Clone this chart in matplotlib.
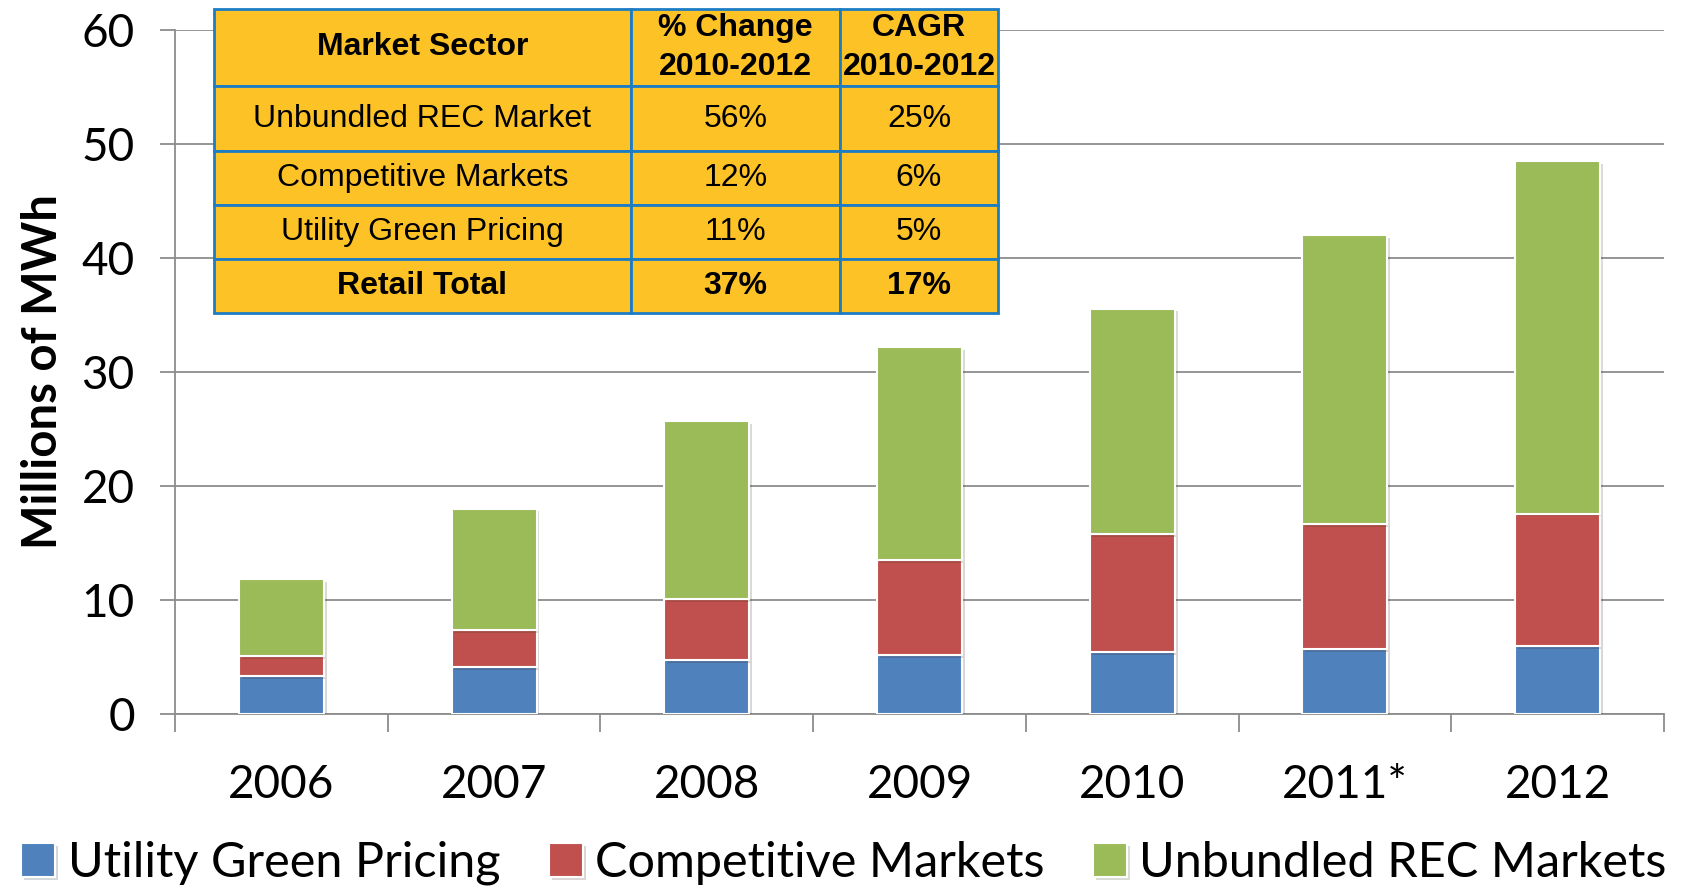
import matplotlib
matplotlib.use("Agg")
import matplotlib.pyplot as plt
import matplotlib.patheffects as pe
from matplotlib.table import Table
import numpy as np

# Retail green power sales, millions of MWh
years = ['2006', '2007', '2008', '2009', '2010', '2011*', '2012']
utility_green = [3.3, 4.13, 4.75, 5.15, 5.4, 5.67, 5.97]
competitive = [1.77, 3.23, 5.33, 8.32, 10.38, 11.01, 11.6]
unbundled_rec = [6.77, 10.64, 15.62, 18.73, 19.77, 25.32, 30.93]

series_names = ['Utility Green Pricing', 'Competitive Markets', 'Unbundled REC Markets']
series_colors = ['#4F81BD', '#C0504D', '#9BBB59']

# growth table
table_header = ['Market Sector', '% Change\n2010-2012', 'CAGR\n2010-2012']
table_rows = [
    ['Unbundled REC Market', '56%', '25%'],
    ['Competitive Markets', '12%', '6%'],
    ['Utility Green Pricing', '11%', '5%'],
    ['Retail Total', '37%', '17%'],
]

tick_font = 'Lato'
table_font = ['Liberation Sans', 'DejaVu Sans']

fig = plt.figure(figsize=(16.83, 8.89), dpi=100)
ax = fig.add_axes([0.104, 0.197, 0.8847, 0.7693])

x = np.arange(len(years))
bottom = np.zeros(len(years))
shadow = [pe.SimplePatchShadow(offset=(2, -2), alpha=0.18), pe.Normal()]
for vals, name, col in zip([utility_green, competitive, unbundled_rec], series_names, series_colors):
    ax.bar(x, vals, 0.4, bottom=bottom, color=col, edgecolor='white', linewidth=1.5,
           label=name, zorder=3, path_effects=shadow)
    bottom += np.array(vals)

ax.set_xlim(-0.5, len(years) - 0.5)
ax.set_ylim(0, 60)
ax.set_yticks(range(0, 61, 10))
ax.yaxis.grid(True, color='#8C8C8C', linewidth=1.3, zorder=0)
ax.set_axisbelow(True)

# category boundaries as major ticks, labels on minor ticks
ax.set_xticks(np.arange(-0.5, len(years), 1.0))
ax.set_xticklabels([])
ax.set_xticks(x, minor=True)
ax.set_xticklabels(years, minor=True, fontsize=33, family=tick_font)
ax.tick_params(axis='x', which='major', length=13, width=1.3, color='#8C8C8C', direction='out')
ax.tick_params(axis='x', which='minor', length=0, pad=36)
ax.tick_params(axis='y', length=11, width=1.3, color='#8C8C8C', pad=18, labelsize=33)
for lbl in ax.get_yticklabels():
    lbl.set_family(tick_font)

for side in ['top', 'right']:
    ax.spines[side].set_visible(False)
for side in ['left', 'bottom']:
    ax.spines[side].set_color('#8C8C8C')
    ax.spines[side].set_linewidth(1.3)

ax.set_ylabel('Millions of MWh', fontsize=34, fontweight='bold', family=tick_font, labelpad=12)

# table in the upper left
col_widths = [0.280, 0.1404, 0.1061]
row_heights = [0.113, 0.095, 0.079, 0.079, 0.079]
tbl = Table(ax, bbox=[0.0262, 0.586, 0.5265, 0.445])
all_rows = [table_header] + table_rows
for r, row in enumerate(all_rows):
    for c, txt in enumerate(row):
        cell = tbl.add_cell(r, c, col_widths[c], row_heights[r], text=txt, loc='center',
                            facecolor='#FDC226', edgecolor='#1C7CC4')
        cell.set_linewidth(2)
        bold = r == 0 or r == len(all_rows) - 1
        cell.get_text().set_fontsize(23)
        cell.get_text().set_family(table_font)
        cell.get_text().set_fontweight('bold' if bold else 'normal')
        cell.get_text().set_linespacing(1.4)
        cell.PAD = 0.01
tbl.auto_set_font_size(False)
tbl.set_zorder(5)
tbl.set_clip_on(False)
ax.add_table(tbl)

fig.legend(loc='center', bbox_to_anchor=(0.5015, 0.029), ncol=3, frameon=False,
           prop={'family': tick_font, 'size': 35}, handlelength=0.7, handleheight=0.7,
           handletextpad=0.25, columnspacing=1.0, borderaxespad=0)

fig.savefig('out.png', dpi=100)
